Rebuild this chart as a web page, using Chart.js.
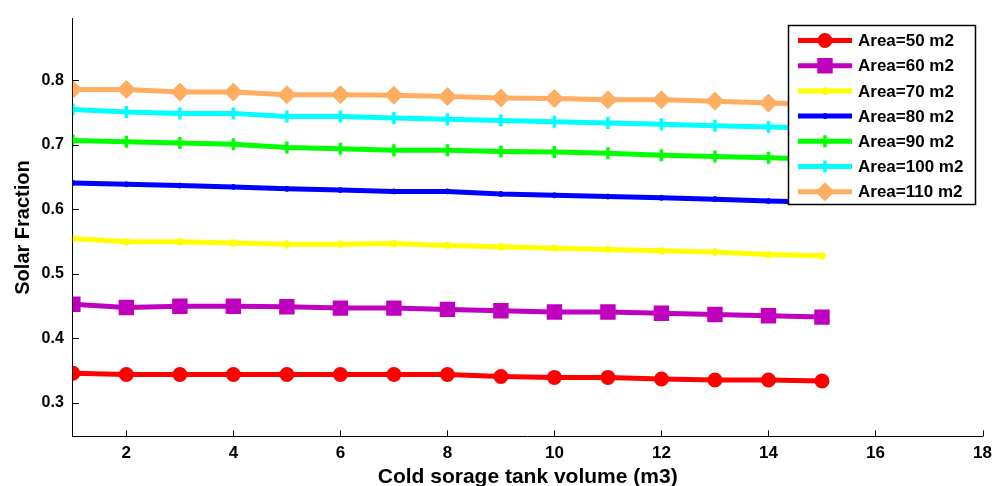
<!DOCTYPE html>
<html>
<head>
<meta charset="utf-8">
<script src="https://cdn.jsdelivr.net/npm/chart.js"></script>
<style>
  html, body { margin: 0; padding: 0; background: #fff; }
  #wrap { width: 994px; height: 486px; }
</style>
</head>
<body>
<div id="wrap"><canvas id="solarChart" width="994" height="486"></canvas></div>
<script>
// volumes (m3)
const volumes = [1, 2, 3, 4, 5, 6, 7, 8, 9, 10, 11, 12, 13, 14, 15];

// solar fraction per collector area
const area50  = [0.346, 0.344, 0.344, 0.344, 0.344, 0.344, 0.344, 0.344, 0.341, 0.3395, 0.3395, 0.337, 0.3355, 0.3355, 0.334];
const area60  = [0.453, 0.448, 0.450, 0.450, 0.449, 0.447, 0.447, 0.445, 0.443, 0.441, 0.441, 0.439, 0.437, 0.435, 0.433];
const area70  = [0.555, 0.550, 0.550, 0.548, 0.546, 0.546, 0.547, 0.544, 0.542, 0.540, 0.538, 0.536, 0.534, 0.530, 0.528];
const area80  = [0.641, 0.639, 0.637, 0.635, 0.632, 0.630, 0.628, 0.628, 0.624, 0.622, 0.620, 0.618, 0.616, 0.613, 0.611];
const area90  = [0.707, 0.705, 0.703, 0.701, 0.696, 0.694, 0.692, 0.692, 0.690, 0.689, 0.687, 0.684, 0.682, 0.680, 0.678];
const area100 = [0.755, 0.751, 0.749, 0.749, 0.744, 0.744, 0.742, 0.740, 0.738, 0.736, 0.734, 0.732, 0.730, 0.728, 0.726];
const area110 = [0.786, 0.786, 0.782, 0.782, 0.778, 0.778, 0.777, 0.775, 0.773, 0.772, 0.770, 0.770, 0.768, 0.765, 0.763];

const seriesLabels = ['Area=50 m2', 'Area=60 m2', 'Area=70 m2', 'Area=80 m2', 'Area=90 m2', 'Area=100 m2', 'Area=110 m2'];
const xTickValues = [2, 4, 6, 8, 10, 12, 14, 16, 18];
const yTickValues = [0.3, 0.4, 0.5, 0.6, 0.7, 0.8];

const FONT = "'Liberation Sans', Arial, sans-serif";

function series(label, values, color, style, radius, bw) {
    return {
        label: label,
        data: volumes.map((v, i) => ({ x: v, y: values[i] })),
        borderColor: color,
        backgroundColor: color,
        borderWidth: 5,
        pointStyle: style,
        pointRadius: radius,
        pointBorderWidth: bw,
        pointBackgroundColor: color,
        pointBorderColor: color,
        tension: 0
    };
}

const datasets = [
    series(seriesLabels[0], area50,  '#ff0000', 'circle', 6.5, 2),
    series(seriesLabels[1], area60,  '#bf00bf', 'rect', 9.5, 2),
    series(seriesLabels[2], area70,  '#ffff00', 'star', 4, 2),
    series(seriesLabels[3], area80,  '#0000ff', 'circle', 2.5, 1),
    series(seriesLabels[4], area90,  '#00ff00', 'cross', 6, 3.5),
    series(seriesLabels[5], area100, '#00ffff', 'cross', 6, 3.5),
    series(seriesLabels[6], area110, '#ffad60', 'rectRot', 9, 1)
];

// inward tick marks like the original figure
const innerTicks = {
    id: 'innerTicks',
    afterDraw(chart) {
        const { ctx, chartArea, scales } = chart;
        ctx.save();
        ctx.strokeStyle = '#000';
        ctx.lineWidth = 1;
        ctx.beginPath();
        xTickValues.forEach(v => {
            const px = Math.round(scales.x.getPixelForValue(v)) + 0.5;
            ctx.moveTo(px, chartArea.bottom);
            ctx.lineTo(px, chartArea.bottom - 6);
        });
        yTickValues.forEach(v => {
            const py = Math.round(scales.y.getPixelForValue(v)) + 0.5;
            ctx.moveTo(chartArea.left, py);
            ctx.lineTo(chartArea.left + 6, py);
        });
        ctx.stroke();
        ctx.restore();
    }
};

// boxed legend drawn over the plot, top right
const boxLegend = {
    id: 'boxLegend',
    afterDraw(chart) {
        const ctx = chart.ctx;
        const left = 788, top = 25, w = 187, h = 179;
        const rowH = 25.2;
        ctx.save();
        ctx.fillStyle = '#fff';
        ctx.fillRect(left, top, w, h);
        ctx.strokeStyle = '#000';
        ctx.lineWidth = 1.5;
        ctx.strokeRect(left + 0.5, top + 0.5, w, h);
        chart.data.datasets.forEach((ds, i) => {
            const y = top + 15.5 + i * rowH;
            ctx.strokeStyle = ds.borderColor;
            ctx.lineWidth = 5;
            ctx.beginPath();
            ctx.moveTo(798, y);
            ctx.lineTo(852, y);
            ctx.stroke();
            ctx.fillStyle = ds.pointBackgroundColor;
            ctx.strokeStyle = ds.pointBorderColor;
            ctx.lineWidth = ds.pointBorderWidth;
            Chart.helpers.drawPoint(ctx, {
                pointStyle: ds.pointStyle,
                radius: ds.pointRadius,
                borderWidth: ds.pointBorderWidth,
                rotation: 0
            }, 825, y);
            ctx.fillStyle = '#000';
            ctx.font = 'bold 17px ' + FONT;
            ctx.textBaseline = 'middle';
            ctx.textAlign = 'left';
            ctx.fillText(ds.label, 858, y + 1);
        });
        ctx.restore();
    }
};

new Chart(document.getElementById('solarChart'), {
    type: 'line',
    data: { datasets: datasets },
    options: {
        responsive: false,
        animation: false,
        layout: { padding: { left: 9, right: 0, top: -2, bottom: -3.6 } },
        plugins: {
            legend: { display: false },
            tooltip: { enabled: false }
        },
        scales: {
            x: {
                type: 'linear',
                min: 1,
                max: 18,
                afterBuildTicks: axis => { axis.ticks = xTickValues.map(v => ({ value: v })); },
                grid: { display: true, drawOnChartArea: false, drawTicks: false },
                border: { display: true, color: '#000', width: 1 },
                ticks: {
                    color: '#000',
                    padding: 0,
                    maxRotation: 0,
                    // tall line box pushes labels down without widening the right margin
                    font: { family: FONT, size: 17, weight: 'bold', lineHeight: 2.0 }
                },
                title: {
                    display: true,
                    text: 'Cold sorage tank volume (m3)',
                    color: '#000',
                    padding: { top: -6, bottom: 0 },
                    font: { family: FONT, size: 21, weight: 'bold' }
                }
            },
            y: {
                type: 'linear',
                min: 0.248,
                max: 0.896,
                afterBuildTicks: axis => { axis.ticks = yTickValues.map(v => ({ value: v })); },
                grid: { display: true, drawOnChartArea: false, drawTicks: false },
                border: { display: true, color: '#000', width: 1 },
                ticks: {
                    color: '#000',
                    padding: 9,
                    callback: v => v.toFixed(1),
                    font: { family: FONT, size: 16, weight: 'bold' }
                },
                title: {
                    display: true,
                    text: 'Solar Fraction',
                    color: '#000',
                    padding: { top: 2, bottom: -2.4 },
                    font: { family: FONT, size: 20, weight: 'bold' }
                }
            }
        }
    },
    plugins: [innerTicks, boxLegend]
});
</script>
</body>
</html>
